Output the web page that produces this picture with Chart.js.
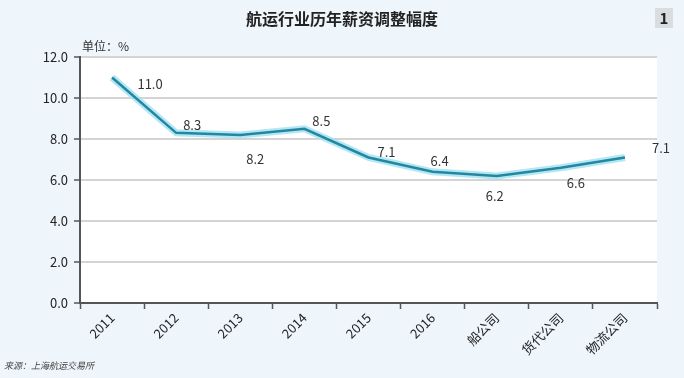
<!DOCTYPE html>
<html>
<head>
<meta charset="utf-8">
<script src="https://cdn.jsdelivr.net/npm/chart.js@4"></script>
<style>
    html, body { margin: 0; padding: 0; background: #eef5fb; }
    #wrap { width: 684px; height: 378px; position: relative; }
</style>
</head>
<body>
<div id="wrap"><canvas id="salaryChart" width="684" height="378"></canvas></div>
<script>
// ===== data =====
const categories = ['2011', '2012', '2013', '2014', '2015', '2016', '船公司', '货代公司', '物流公司'];
const raiseValues = [11.0, 8.3, 8.2, 8.5, 7.1, 6.4, 6.2, 6.6, 7.1];
const yTicks = [0, 2, 4, 6, 8, 10, 12];

// label offsets from each point (dx, dy), px
const labelOffsets = [[38, 7], [16, -8], [15, 24], [17, -8], [18, -5], [7, -11], [-2, 20], [15, 15], [36, -9]];

const FONT = "'Noto Sans CJK SC', 'Noto Sans', sans-serif";

// white plot area + titles + value labels
const decoPlugin = {
    id: 'deco',
    beforeDraw(chart) {
        const { ctx, chartArea } = chart;
        ctx.save();
        ctx.fillStyle = '#ffffff';
        ctx.fillRect(chartArea.left, chartArea.top, chartArea.right - chartArea.left, chartArea.bottom - chartArea.top);
        ctx.restore();
    },
    afterDraw(chart) {
        const { ctx } = chart;
        ctx.save();
        ctx.fillStyle = '#222';
        ctx.font = "bold 16px " + FONT;
        ctx.textAlign = 'center';
        ctx.textBaseline = 'middle';
        ctx.fillText('航运行业历年薪资调整幅度', 342, 19);

        // little page number box
        ctx.fillStyle = '#d9dde0';
        ctx.fillRect(655, 8, 18, 20);
        ctx.fillStyle = '#222';
        ctx.font = "bold 15px " + FONT;
        ctx.fillText('1', 664, 18);

        ctx.textAlign = 'left';
        ctx.font = "12px " + FONT;
        ctx.fillStyle = '#333';
        ctx.fillText('单位：%', 82, 46);

        ctx.font = "italic 9px " + FONT;
        ctx.fillStyle = '#444';
        ctx.fillText('来源：上海航运交易所', 4, 366);

        // value labels
        const meta = chart.getDatasetMeta(1);
        ctx.font = "13px " + FONT;
        ctx.fillStyle = '#333';
        ctx.textAlign = 'center';
        meta.data.forEach((pt, i) => {
            const off = labelOffsets[i];
            ctx.fillText(raiseValues[i].toFixed(1), pt.x + off[0], pt.y + off[1]);
        });
        ctx.restore();
    }
};

const ctx1 = document.getElementById('salaryChart');
new Chart(ctx1, {
    type: 'line',
    data: {
        labels: categories,
        datasets: [{
            // soft glow under the line
            data: raiseValues,
            borderColor: 'rgba(160, 225, 242, 0.8)',
            borderWidth: 7,
            pointRadius: 0,
            tension: 0,
            order: 2
        }, {
            data: raiseValues,
            borderColor: '#23879f',
            borderWidth: 2.5,
            pointRadius: 0,
            tension: 0,
            order: 1
        }]
    },
    options: {
        responsive: false,
        animation: false,
        devicePixelRatio: 1,
        layout: { padding: { top: 57, right: 27, bottom: 0, left: 0 } },
        plugins: {
            legend: { display: false },
            tooltip: { enabled: false }
        },
        scales: {
            x: {
                offset: true,
                grid: {
                    offset: true,
                    drawOnChartArea: false,
                    drawTicks: true,
                    tickLength: 6,
                    tickColor: '#555',
                    tickWidth: 1.5
                },
                border: { color: '#555', width: 2 },
                ticks: {
                    autoSkip: false,
                    minRotation: 45,
                    maxRotation: 45,
                    color: '#222',
                    padding: 1,
                    font: { family: FONT, size: 13 }
                },
                afterFit(scale) { scale.height = 75; }
            },
            y: {
                min: 0,
                max: 12,
                afterBuildTicks(scale) { scale.ticks = yTicks.map(v => ({ value: v })); },
                grid: {
                    color: '#d4d4d4',
                    lineWidth: 2,
                    tickLength: 6,
                    tickColor: '#555',
                    tickWidth: 1.5
                },
                border: { color: '#555', width: 2 },
                ticks: {
                    color: '#222',
                    padding: 6,
                    font: { family: FONT, size: 13 },
                    callback: v => v.toFixed(1)
                },
                afterFit(scale) { scale.width = 80; }
            }
        }
    },
    plugins: [decoPlugin]
});
</script>
</body>
</html>
